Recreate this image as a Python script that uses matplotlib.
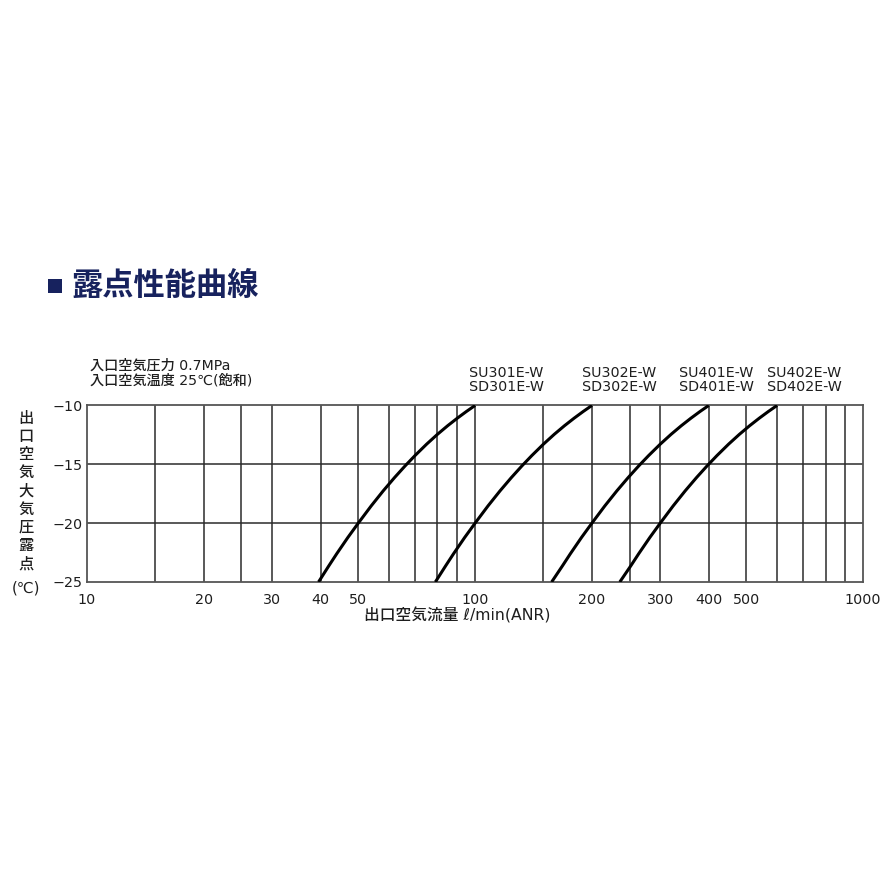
import matplotlib.pyplot as plt
from matplotlib.patches import Rectangle
from matplotlib.ticker import FixedLocator, NullLocator

plt.rcParams["font.family"] = ["DejaVu Sans", "Noto Sans CJK JP"]

# curves: flow (l/min) vs dew point (degC)
dew_y = [-25, -23.62, -22.6, -21.22, -20, -18.53, -17.25, -16.13,
         -15.14, -14.26, -13.29, -12.45, -11.72, -11.08, -10.51, -10]
su301_x = [39.5, 42, 44, 47, 50, 54, 58, 62, 66, 70, 75, 80, 85, 90, 95, 100]
su302_x = [79, 84, 88, 94, 100, 108, 116, 124, 132, 140, 150, 160, 170, 180, 190, 200]
su401_x = [157.5, 168, 176, 188, 200, 216, 232, 248, 264, 280, 300, 320, 340, 360, 380, 400]
su402_x = [236, 252, 264, 282, 300, 324, 348, 372, 396, 420, 450, 480, 510, 540, 570, 600]

model_labels = ["SU301E-W\nSD301E-W", "SU302E-W\nSD302E-W", "SU401E-W\nSD401E-W", "SU402E-W\nSD402E-W"]
x_grid = [15, 20, 25, 30, 40, 50, 60, 70, 80, 90, 100,
          150, 200, 250, 300, 400, 500, 600, 700, 800, 900]
x_ticks = [10, 20, 30, 40, 50, 100, 200, 300, 400, 500, 1000]
y_ticks = [-25, -20, -15, -10]
ylabel_chars = list("出口空気大気圧露点")

TXT = "#1e1e1e"

fig = plt.figure(figsize=(8.88, 8.88), dpi=100)
ax = fig.add_axes([0.098, 0.3446, 0.874, 0.1988])

ax.set_xscale("log")
ax.set_xlim(10, 1000)
ax.set_ylim(-25, -10)

for gx in x_grid:
    ax.axvline(gx, color="#2b2b2b", lw=1.1, zorder=1)
for gy in [-20, -15]:
    ax.axhline(gy, color="#2b2b2b", lw=1.1, zorder=1)

for xs in [su301_x, su302_x, su401_x, su402_x]:
    ax.plot(xs, dew_y, color="black", lw=2.2, solid_capstyle="butt", zorder=3)

ax.xaxis.set_major_locator(FixedLocator(x_ticks))
ax.xaxis.set_minor_locator(NullLocator())
ax.set_xticklabels([str(t) for t in x_ticks])
ax.set_yticks(y_ticks)
ax.set_yticklabels(["\u2212" + str(-t) for t in y_ticks])
ax.tick_params(length=0, labelsize=10.3, colors=TXT)
ax.tick_params(axis="x", pad=8)
ax.tick_params(axis="y", pad=3)
for s in ax.spines.values():
    s.set_color("#555555")
    s.set_linewidth(1.3)

# model names above the curve ends
label_x = [469, 582, 679, 767]
for lx, txt in zip(label_x, model_labels):
    fig.text(lx / 888, 1 - 380 / 888, txt, fontsize=10.3, color=TXT,
             ha="left", va="center", linespacing=0.92)

fig.text(90 / 888, 1 - 373 / 888, "入口空気圧力 0.7MPa\n入口空気温度 25℃(飽和)",
         fontsize=10.2, color=TXT, ha="left", va="center", linespacing=1.0,
         fontweight="medium")

# vertical y label, one character per row
for i, ch in enumerate(ylabel_chars):
    fig.text(26 / 888, 1 - (418 + 18.2 * i) / 888, ch, fontsize=11, color=TXT,
             ha="center", va="center", fontweight="medium")
fig.text(26 / 888, 1 - 588 / 888, "(℃)", fontsize=10.8, color=TXT,
         ha="center", va="center")

fig.text(457 / 888, 1 - 615 / 888, "出口空気流量 ℓ/min(ANR)", fontsize=11.3,
         color=TXT, ha="center", va="center", fontweight="medium")

# title with small square bullet
fig.add_artist(Rectangle((48 / 888, 1 - 293 / 888), 14 / 888, 14 / 888,
                         transform=fig.transFigure, color="#17225e", lw=0))
fig.text(71 / 888, 1 - 286 / 888, "露点性能曲線", fontsize=22.5, fontweight="bold",
         color="#17225e", ha="left", va="center")

fig.savefig("out.png", dpi=100, facecolor="white")
